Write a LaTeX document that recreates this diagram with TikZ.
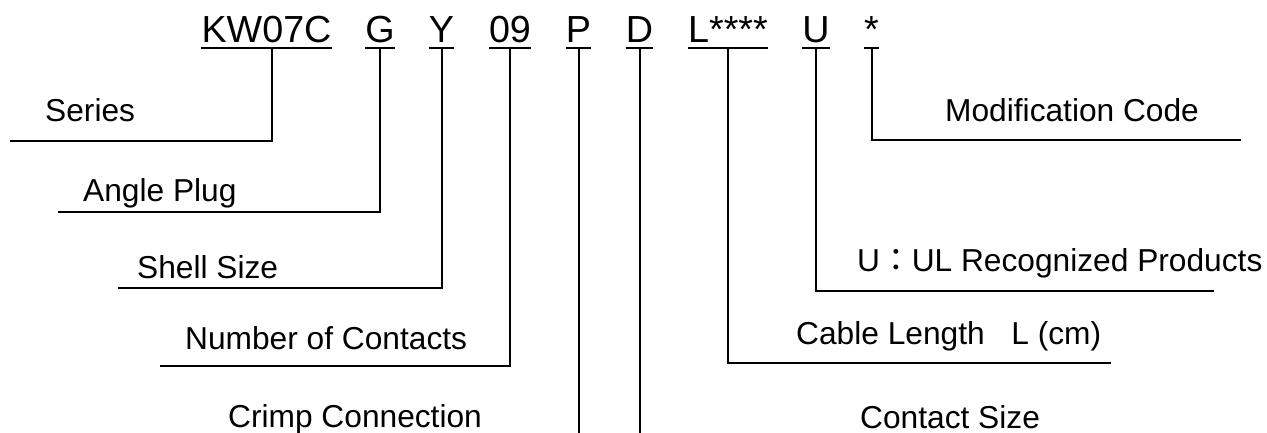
\documentclass[tikz,border=0pt]{standalone}
\usepackage{fontspec}
\setmainfont{Liberation Sans}
\newfontfamily\cjk{Noto Sans CJK TC}

\begin{document}
\begin{tikzpicture}[x=1pt,y=-1pt,
		code/.style={font=\fontsize{37.7}{40}\selectfont,inner xsep=0pt,inner ysep=5pt,text depth=0pt,anchor=base},
		lbl/.style={font=\fontsize{31.7}{36}\selectfont,inner sep=0pt,anchor=base west},
		lead/.style={line width=2pt}]
		\useasboundingbox (0,0) rectangle (1267,433);

		% Part number
		\node[code] (kwc) at (266.5,43) {KW07C};
		\node[code] (gc) at (380,43) {G};
		\node[code] (yc) at (441.5,43) {Y};
		\node[code] (nc) at (510,43) {09};
		\node[code] (pc) at (578.5,43) {P};
		\node[code] (dc) at (639.5,43) {D};
		\node[code] (lc) at (728,43) {L****};
		\node[code] (uc) at (816,43) {U};
		\node[code] (sc) at (871.5,43) {*};
		\foreach \c in {kwc,gc,yc,nc,pc,dc,lc,uc,sc}
		\draw[lead] (\c.south west) -- (\c.south east);

		% Meanings
		\node[lbl] (series) at (45,122) {Series};
		\node[lbl] (angle) at (83,201) {Angle Plug};
		\node[lbl] (shell) at (137,278) {Shell Size};
		\node[lbl] (contacts) at (185,349) {Number of Contacts};
		\node[lbl] (crimp) at (228,427) {Crimp Connection};
		\node[lbl] (csize) at (860,428) {Contact Size};
		\node[lbl] (cable) at (796,344) {Cable Length\hspace{0.84em}L (cm)};
		\node[lbl] (ul) at (857,271) {U{\cjk ：}UL Recognized Products};
		\node[lbl] (modcode) at (945,122) {Modification Code};

		% Leader ends
		\coordinate (seriesend) at (10,141);
		\coordinate (angleend) at (58,212);
		\coordinate (shellend) at (118,288);
		\coordinate (contactsend) at (160,366);
		\coordinate (crimpend) at (pc.south |- 0,433);
		\coordinate (csizeend) at (dc.south |- 0,433);
		\coordinate (cableend) at (1111,363);
		\coordinate (ulend) at (1214,291);
		\coordinate (modend) at (1241,140);

		% Leaders
		\draw[lead] ([xshift=5.5pt]kwc.south) |- (seriesend);
		\draw[lead] (gc.south) |- (angleend);
		\draw[lead] (yc.south) |- (shellend);
		\draw[lead] (nc.south) |- (contactsend);
		\draw[lead] (pc.south) -- (crimpend);
		\draw[lead] (dc.south) -- (csizeend);
		\draw[lead] (lc.south) |- (cableend);
		\draw[lead] (uc.south) |- (ulend);
		\draw[lead] (sc.south) |- (modend);
	\end{tikzpicture}
\end{document}
